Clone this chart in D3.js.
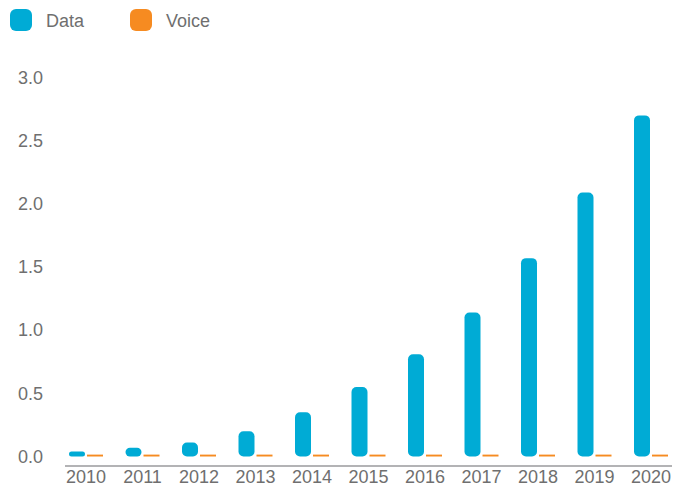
<!DOCTYPE html>
<html>
<head>
<meta charset="utf-8">
<script src="https://cdn.jsdelivr.net/npm/d3@7"></script>
<style>
  html, body { margin: 0; padding: 0; background: #fff; }
  svg { display: block; font-family: "Liberation Sans", Arial, Helvetica, sans-serif; }
</style>
</head>
<body>
<svg id="chart" width="688" height="488"></svg>
<script>
// Mobile traffic by year (EB per month)
const years = ["2010","2011","2012","2013","2014","2015","2016","2017","2018","2019","2020"];
const dataTraffic = [0.04, 0.07, 0.11, 0.2, 0.35, 0.55, 0.81, 1.14, 1.57, 2.09, 2.7];
const voiceTraffic = [0.015, 0.015, 0.015, 0.015, 0.015, 0.015, 0.015, 0.015, 0.015, 0.015, 0.015];
const seriesNames = ["Data", "Voice"];
const seriesColors = ["#00abd5", "#f68b21"];
const yTicks = [0, 0.5, 1, 1.5, 2, 2.5, 3];

const svg = d3.select("#chart");
const textColor = "#6f6f6f";
const fontSize = "18px";

const x = d3.scaleBand().domain(years).range([57.75, 679.25]).paddingInner(0).paddingOuter(0);
const y = d3.scaleLinear().domain([0, 3]).range([456.5, 77.5]);
const barW = 16, gap = 2;

// y axis labels
const yAxis = d3.axisLeft(y).tickValues(yTicks).tickFormat(d3.format(".1f")).tickSize(0).tickPadding(0);
const gy = svg.append("g").attr("transform", "translate(43,0)").call(yAxis);
gy.select(".domain").remove();
gy.selectAll("text").attr("fill", textColor).style("font-size", fontSize)
  .style("font-family", "\"Liberation Sans\", Arial, sans-serif");

// x axis labels
const xAxis = d3.axisBottom(x).tickSize(0).tickPadding(0);
const gx = svg.append("g").attr("transform", "translate(0,470)").call(xAxis);
gx.select(".domain").remove();
gx.selectAll("text").attr("fill", textColor).style("font-size", fontSize)
  .style("font-family", "\"Liberation Sans\", Arial, sans-serif");

// baseline rule
svg.append("line")
  .attr("x1", 65).attr("x2", 672).attr("y1", 466).attr("y2", 466)
  .attr("stroke", "#b3b3b5").attr("stroke-width", 2);

// data bars (rounded)
svg.append("g").selectAll("rect").data(years).join("rect")
  .attr("x", d => x(d) + x.bandwidth() / 2 - gap / 2 - barW)
  .attr("width", barW)
  .attr("y", (d, i) => y(dataTraffic[i]))
  .attr("height", (d, i) => y(0) - y(dataTraffic[i]))
  .attr("rx", (d, i) => Math.min(5, (y(0) - y(dataTraffic[i])) / 2))
  .attr("fill", seriesColors[0]);

// voice bars
svg.append("g").selectAll("rect").data(years).join("rect")
  .attr("x", d => x(d) + x.bandwidth() / 2 + gap / 2)
  .attr("width", barW)
  .attr("y", (d, i) => y(voiceTraffic[i]))
  .attr("height", (d, i) => y(0) - y(voiceTraffic[i]))
  .attr("fill", seriesColors[1]);

// legend
const legendX = [10, 130];
const lg = svg.append("g").selectAll("g").data(seriesNames).join("g")
  .attr("transform", (d, i) => `translate(${legendX[i]},9)`);
lg.append("rect").attr("width", 22).attr("height", 22).attr("rx", 6)
  .attr("fill", (d, i) => seriesColors[i]);
lg.append("text").attr("x", 36).attr("y", 11.5).attr("dy", "0.35em")
  .attr("fill", textColor).style("font-size", fontSize).text(d => d);
</script>
</body>
</html>
